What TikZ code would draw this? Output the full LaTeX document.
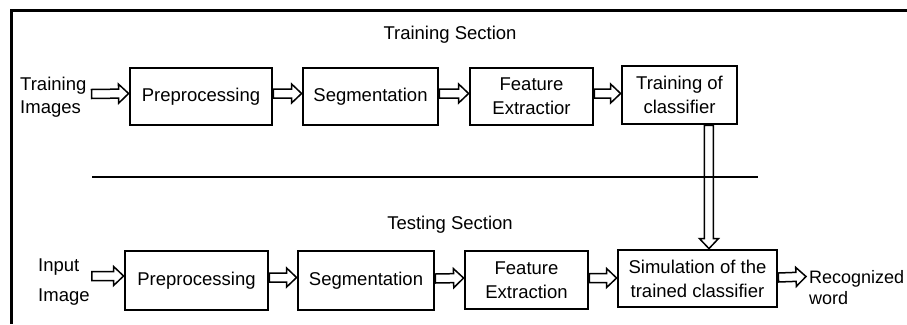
\documentclass[tikz,border=0pt]{standalone}
\usepackage{fontspec}
\setmainfont{Liberation Sans}
\usetikzlibrary{calc}

\begin{document}
\begin{tikzpicture}[x=1pt, y=-1pt,
    stage/.style={draw, line width=2.8pt, inner sep=0pt, align=center,
        font=\fontsize{18.5}{24}\selectfont},
    label/.style={inner sep=0pt, align=left, font=\fontsize{18.5}{24}\selectfont},
    hollow/.style={line width=1.5pt, line join=miter, to path={
        let \p1=($(\tikztotarget)-(\tikztostart)$), \n1={atan2(\y1,\x1)} in
        ($(\tikztostart)+(\n1+90:4.5pt)$)
        -- ($(\tikztotarget)+(\n1+180:10pt)+(\n1+90:4.5pt)$)
        -- ($(\tikztotarget)+(\n1+180:10pt)+(\n1+90:9.5pt)$)
        -- (\tikztotarget)
        -- ($(\tikztotarget)+(\n1+180:10pt)+(\n1-90:9.5pt)$)
        -- ($(\tikztotarget)+(\n1+180:10pt)+(\n1-90:4.5pt)$)
        -- ($(\tikztostart)+(\n1-90:4.5pt)$) -- cycle}}]
    \useasboundingbox (0,0) rectangle (907,324);
    \fill[white] (0,0) rectangle (907,324);

    \draw[line width=3pt] (907,10) -- (11,10) -- (11,324);
    \draw[line width=2.6pt] (92,177) -- (758,177);

    \node[label] (titleTrain) at (450,35) {Training Section};
    \node[label] (titleTest) at (450,225) {Testing Section};

    \node[label, anchor=west, font=\fontsize{18.5}{23}\selectfont] (trainImg) at (20,97) {Training\\Images};
    \node[stage, minimum width=142, minimum height=57] (preTrain) at (201,96.5) {Preprocessing};
    \node[stage, minimum width=135, minimum height=57] (segTrain) at (370.5,96.5) {Segmentation};
    \node[stage, minimum width=123, minimum height=57] (featTrain) at (531.5,96.5) {Feature\\Extractior};
    \node[stage, minimum width=115, minimum height=58] (clsTrain) at (679.5,95) {Training of\\classifier};

    \node[label, anchor=west, font=\fontsize{18.5}{30}\selectfont] (inImg) at (38,282) {Input\\Image};
    \node[stage, minimum width=143, minimum height=59] (preTest) at (196.5,280.5) {Preprocessing};
    \node[stage, minimum width=136, minimum height=59] (segTest) at (366,280.5) {Segmentation};
    \node[stage, minimum width=123, minimum height=58] (featTest) at (526.5,280) {Feature\\Extraction};
    \node[stage, minimum width=159, minimum height=57] (simTest) at (697.5,278.5) {Simulation of the\\trained classifier};
    \node[label, anchor=west, font=\fontsize{18}{21}\selectfont] (outWord) at (809,287.5) {Recognized\\word};

    \draw[hollow] ($(trainImg.east)+(5,-3)$) to ($(preTrain.west)+(0,-3)$);
    \draw[hollow] ($(preTrain.east)+(0,-3)$) to ($(segTrain.west)+(0,-3)$);
    \draw[hollow] ($(segTrain.east)+(0,-3)$) to ($(featTrain.west)+(0,-3)$);
    \draw[hollow] ($(featTrain.east)+(0,-3)$) to ($(clsTrain.west)+(0,-1.5)$);

    \draw[hollow] ($(inImg.east)+(2,-6)$) to (preTest.west |- {(0,276)});
    \draw[hollow] ($(preTest.east)+(0,-3)$) to ($(segTest.west)+(0,-3)$);
    \draw[hollow] ($(segTest.east)+(0,-2)$) to ($(featTest.west)+(0,-2)$);
    \draw[hollow] ($(featTest.east)+(0,-2)$) to ($(simTest.west)+(0,-0.5)$);
    \draw[hollow] ($(simTest.east)+(0,-1)$) to ($(outWord.west)+(-3,-11)$);

    \coordinate (link) at ($(clsTrain.south east)!0.25!(clsTrain.south west)$);
    \draw[hollow] (link) to (link |- simTest.north);
\end{tikzpicture}
\end{document}
